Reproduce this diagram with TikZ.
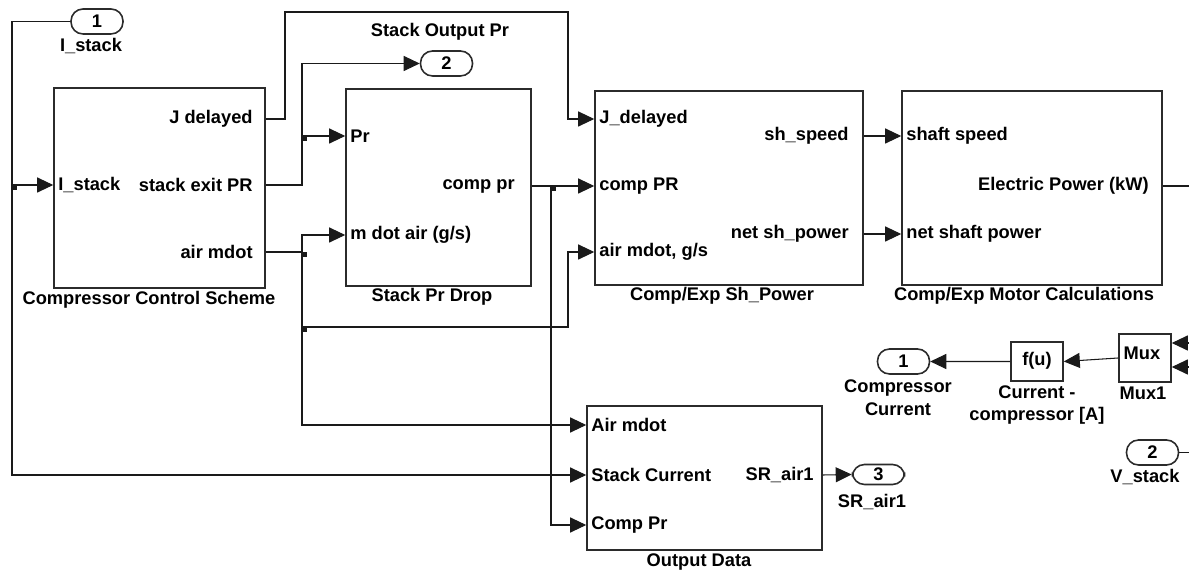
\documentclass[tikz,border=0pt]{standalone}
\usepackage{fontspec}
\setmainfont{Liberation Sans}
\usepackage{tikz}
\usetikzlibrary{arrows.meta,fit,calc}
\definecolor{SimEdge}{HTML}{2B2B2B}
\definecolor{SimLine}{HTML}{1A1A1A}
\newcommand\simfont{\fontsize{10.4}{13}\selectfont\bfseries}
\tikzset{
  >={Triangle[length=3.2mm,width=3mm]},
  block/.style={draw=SimEdge,line width=0.9pt,fill=white,inner sep=0pt},
  portoval/.style={draw=SimEdge,line width=0.9pt,rounded corners=2.4mm,
    minimum width=1.04cm,minimum height=0.5cm,inner sep=0pt,font=\simfont},
  inlbl/.style={anchor=west,inner sep=0pt,font=\simfont},
  outlbl/.style={anchor=east,inner sep=0pt,font=\simfont},
  caption/.style={align=center,inner sep=0pt,font=\simfont},
  wire/.style={draw=SimLine,line width=0.6pt},
  sig/.style={wire,->},
  branch/.style={fill=SimLine}
}

\begin{document}
\begin{tikzpicture}[x=0.02cm,y=-0.02cm]
  \useasboundingbox (0,0) rectangle (1189,573);

  % subsystem blocks
  \node[block,fit={(54,88) (265,288)}] (ccs) {};
  \node[block,fit={(346,89) (531,286)}] (spd) {};
  \node[block,fit={(595,91) (863,285)}] (shp) {};
  \node[block,fit={(902,91) (1162,285)}] (mot) {};
  \node[block,fit={(587,406) (822,550)}] (outdata) {};
  \node[block,fit={(1011,342) (1063,381)}] (fu) {};
  \node[block,fit={(1119,334) (1171,382)}] (mux) {};
  \node[inner sep=0pt,font=\simfont] (fu-txt) at (1037,361) {f(u)};
  \node[inner sep=0pt,font=\simfont] (mux-txt) at (1142,353) {Mux};

  % block captions
  \node[caption] (ccs-cap) at (149,300) {Compressor Control Scheme};
  \node[caption] (spd-cap) at (432,297) {Stack Pr Drop};
  \node[caption] (shp-cap) at (722,296) {Comp/Exp Sh\_Power};
  \node[caption] (mot-cap) at (1024,296) {Comp/Exp Motor Calculations};
  \node[caption] (out-cap) at (699,562) {Output Data};
  \node[caption] (fu-cap) at (1037,405) {Current -\\compressor [A]};
  \node[caption] (mux-cap) at (1143,393) {Mux1};

  % port labels
  \node[inlbl] (ccs-i1) at (58,185) {I\_stack};
  \node[outlbl] (ccs-o1) at (253,119) {J delayed};
  \node[outlbl] (ccs-o2) at (253,185) {stack exit PR};
  \node[outlbl] (ccs-o3) at (253,252) {air mdot};

  \node[inlbl] (spd-i1) at (350,136) {Pr};
  \node[inlbl] (spd-i2) at (350,235) {m dot air (g/s)};
  \node[outlbl] (spd-o1) at (515,186) {comp pr};

  \node[inlbl] (shp-i1) at (599,119) {J\_delayed};
  \node[inlbl] (shp-i2) at (599,186) {comp PR};
  \node[inlbl] (shp-i3) at (599,252) {air mdot, g/s};
  \node[outlbl] (shp-o1) at (849,136) {sh\_speed};
  \node[outlbl] (shp-o2) at (849,234) {net sh\_power};

  \node[inlbl] (mot-i1) at (906,136) {shaft speed};
  \node[inlbl] (mot-i2) at (906,234) {net shaft power};
  \node[outlbl] (mot-o1) at (1149,186) {Electric Power (kW)};

  \node[inlbl] (out-i1) at (591,425) {Air mdot};
  \node[inlbl] (out-i2) at (591,475) {Stack Current};
  \node[inlbl] (out-i3) at (591,525) {Comp Pr};
  \node[outlbl] (out-o1) at (814,475) {SR\_air1};

  % in/out ports
  \node[portoval] (istack) at (97,21.5) {1};
  \node[caption] (istack-lbl) at (91,46) {I\_stack};
  \node[portoval] (stackpr) at (446.5,63.5) {2};
  \node[caption] (stackpr-lbl) at (440,32) {Stack Output Pr};
  \node[portoval,minimum height=0.4cm] (srair) at (878.5,474.5) {3};
  \node[caption] (srair-lbl) at (872,502) {SR\_air1};
  \node[portoval] (compcur) at (903.5,361.5) {1};
  \node[caption] (compcur-lbl) at (898,398) {Compressor\\Current};
  \node[portoval] (vstack) at (1152.5,452.5) {2};
  \node[caption] (vstack-lbl) at (1145,477) {V\_stack};

  % branch points and free ends
  \coordinate (b1) at (12,185);
  \coordinate (b2) at (302,136);
  \coordinate (b3) at (302,252);
  \coordinate (b4) at (302,327);
  \coordinate (b5) at (551,186);
  \coordinate (epout) at (1189,186);
  \coordinate (muxin1) at (1189,343);
  \coordinate (muxin2) at (1189,367);
  \coordinate (vout) at (1189,452.5);

  % signal lines
  \draw[sig] (istack.west) -| (12,300) |- (outdata.west |- out-i2);
  \draw[sig] (b1) -- (ccs.west |- ccs-i1);
  \draw[sig] (ccs.east |- ccs-o1) -- (285,119) |- (568,12) |- (shp.west |- shp-i1);
  \draw[sig] (ccs.east |- ccs-o2) -- (302,185) |- (stackpr.west);
  \draw[sig] (b2) -- (spd.west |- spd-i1);
  \draw[wire] (ccs.east |- ccs-o3) -- (b3);
  \draw[sig] (b3) |- (spd.west |- spd-i2);
  \draw[sig] (b3) |- (outdata.west |- out-i1);
  \draw[sig] (b4) -- (568,327) |- (shp.west |- shp-i3);
  \draw[sig] (spd.east |- spd-o1) -- (shp.west |- shp-i2);
  \draw[sig] (b5) |- (outdata.west |- out-i3);
  \draw[sig] (shp.east |- shp-o1) -- (mot.west |- mot-i1);
  \draw[sig] (shp.east |- shp-o2) -- (mot.west |- mot-i2);
  \draw[wire] (mot.east |- mot-o1) -- (epout);
  \draw[sig] (outdata.east |- out-o1) -- (srair.west);
  \draw[sig] (mux.west) -- (fu.east);
  \draw[sig] (fu.west) -- (compcur.east);
  \draw[sig] (muxin1) -- (mux.east |- muxin1);
  \draw[sig] (muxin2) -- (mux.east |- muxin2);
  \draw[wire] (vstack.east) -- (vout);

  % branch dots
  \foreach \b in {b1,b2,b3,b4,b5}
    \fill[branch] (\b) rectangle ++(5,5);
\end{tikzpicture}
\end{document}
